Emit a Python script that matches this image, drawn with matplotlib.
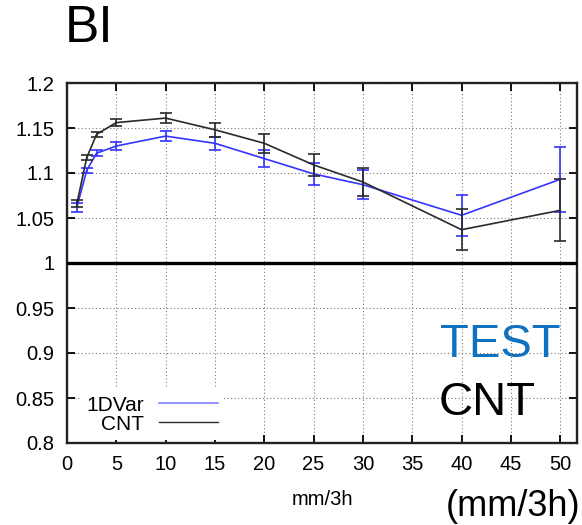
import matplotlib
matplotlib.use("Agg")
import matplotlib.pyplot as plt
from matplotlib.lines import Line2D

plt.rcParams['font.family'] = ['Liberation Sans', 'DejaVu Sans']

x = [1, 2, 3, 5, 10, 15, 20, 25, 30, 40, 50]
var1d = [1.062, 1.103, 1.122, 1.130, 1.141, 1.133, 1.116, 1.099, 1.087, 1.053, 1.093]
var1d_err = [0.005, 0.003, 0.003, 0.004, 0.006, 0.007, 0.0095, 0.0125, 0.016, 0.023, 0.036]
cnt = [1.066, 1.117, 1.143, 1.156, 1.161, 1.148, 1.133, 1.109, 1.090, 1.037, 1.0585]
cnt_err = [0.004, 0.003, 0.003, 0.0037, 0.0057, 0.008, 0.0107, 0.0126, 0.0155, 0.023, 0.0345]

xticks = [0, 5, 10, 15, 20, 25, 30, 35, 40, 45, 50]
yticks = [0.8, 0.85, 0.9, 0.95, 1.0, 1.05, 1.1, 1.15, 1.2]
ytick_labels = ['0.8', '0.85', '0.9', '0.95', '1', '1.05', '1.1', '1.15', '1.2']

W, H = 582, 525
fig = plt.figure(figsize=(W / 100, H / 100), dpi=100)
ax = fig.add_axes([67 / W, 1 - 443 / H, (577 - 67) / W, (443 - 83) / H])

blue = '#3434ff'
dark = '#2a2a2a'

ax.errorbar(x, var1d, yerr=var1d_err, color=blue, lw=1.2, capsize=4.5,
            capthick=1.2, elinewidth=1.2, zorder=3)
ax.errorbar(x, cnt, yerr=cnt_err, color=dark, lw=1.2, capsize=4.5,
            capthick=1.2, elinewidth=1.2, zorder=4)

ax.axhline(1.0, color='black', lw=2.4, zorder=5)

ax.set_xlim(0, 51.7)
ax.set_ylim(0.8, 1.2)
ax.set_xticks(xticks)
ax.set_yticks(yticks)
ax.set_yticklabels(ytick_labels)
ax.grid(True, color='#7a7a7a', linestyle=(0, (1, 2.2)), lw=0.8, zorder=0)
ax.tick_params(direction='in', length=6, width=1.3, top=True, right=True,
               labelsize=14.5, pad=9)
for s in ax.spines.values():
    s.set_linewidth(1.7)
    s.set_color('#222222')

ax.set_xlabel('mm/3h', fontsize=14.5, labelpad=11)

handles = [Line2D([], [], color='#8080ff', lw=1.2),
           Line2D([], [], color=dark, lw=1.0)]
leg = ax.legend(handles, ['1DVar', 'CNT'], loc='lower left',
                bbox_to_anchor=(0.02, 0.0), markerfirst=False, fontsize=15,
                frameon=True, framealpha=1, edgecolor='none', fancybox=False,
                handlelength=2.85, handletextpad=0.7, labelspacing=0.0,
                borderpad=0.3, borderaxespad=0.15)
leg.get_frame().set_facecolor('white')
leg.set_zorder(6)

fig.text(65 / W, 1 - 28 / H, 'BI', fontsize=37, ha='left', va='center')
fig.text(500 / W, 1 - 345 / H, 'TEST', fontsize=34, color='#0f71c0',
         ha='center', va='center', zorder=10)
fig.text(487 / W, 1 - 403 / H, 'CNT', fontsize=34, color='black',
         ha='center', va='center', zorder=10)
fig.text(580 / W, 1 - 507 / H, '(mm/3h)', fontsize=26, ha='right', va='center')

fig.savefig('out.png', dpi=100)
